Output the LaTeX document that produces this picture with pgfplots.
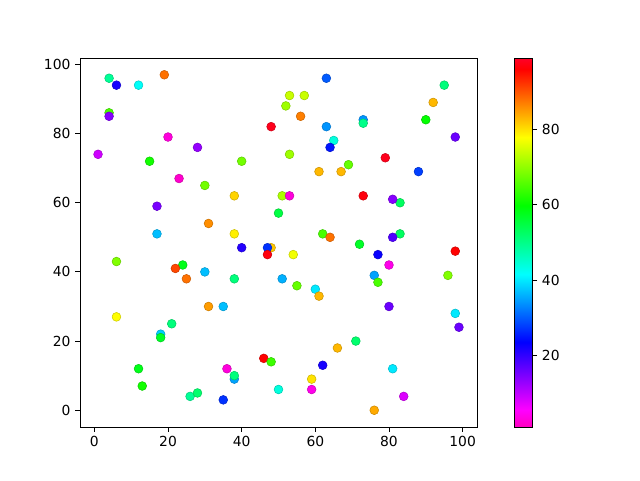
\documentclass[border=0pt]{standalone}
\usepackage{fontspec}
\setmainfont{DejaVu Sans}
\usepackage{pgfplots}
\pgfplotsset{compat=1.18}

% gist_rainbow reversed
\pgfplotsset{
  colormap={gistrainbowr}{
    rgb(0pt)=(1,0,0.75); rgb(46pt)=(1,0,1); rgb(230pt)=(0,0,1);
    rgb(414pt)=(0,1,1); rgb(600pt)=(0,1,0); rgb(785pt)=(1,1,0);
    rgb(970pt)=(1,0,0); rgb(1000pt)=(1,0,0.16)
  },
}

\pgfplotstableread{
x y c
4 96 49
6 94 22
12 94 42
19 97 88
4 86 65
4 85 14
20 79 3
28 76 13
1 74 9
15 72 61
23 67 2
63 96 30
53 91 74
57 91 74
52 88 71
56 85 87
48 82 98
63 82 34
65 78 44
64 76 25
40 72 68
53 74 71
61 69 83
67 69 83
69 71 67
95 94 51
92 89 83
73 84 34
73 83 50
90 84 60
98 79 16
79 73 98
88 69 28
30 65 68
17 59 15
31 54 86
17 51 37
6 43 69
24 42 58
22 41 91
25 38 88
30 40 37
38 62 81
51 62 72
53 62 3
50 57 55
38 51 79
62 51 65
64 50 88
40 47 21
48 47 82
47 47 27
47 45 97
54 45 77
38 38 51
51 38 36
55 36 67
60 35 40
61 33 83
73 62 97
83 60 53
81 61 14
83 51 53
81 50 18
72 48 57
98 46 96
77 45 23
80 42 4
76 39 35
77 37 65
96 39 69
6 27 78
31 30 85
35 30 37
21 25 51
18 22 38
18 21 57
12 12 58
13 7 61
26 4 49
28 5 52
35 3 27
46 15 96
48 14 64
36 12 3
38 9 35
38 10 51
50 6 44
59 9 80
59 6 4
62 13 22
66 18 83
80 30 16
98 28 40
99 24 16
71 20 52
81 12 40
84 4 8
76 0 84
}\points

\begin{document}
\begin{tikzpicture}
\begin{axis}[
  at={(0,0)}, anchor=south west,
  scale only axis,
  width=297.75pt, height=276.75pt,
  xmin=-3.9, xmax=103.9,
  ymin=-4.85, ymax=101.85,
  xtick={0,20,...,100}, ytick={0,20,...,100},
  xtick pos=bottom, ytick pos=left,
  tick align=outside,
  major tick length=3.65pt,
  every tick/.style={black, line width=0.6pt},
  axis line style={line width=0.6pt},
  tick label style={font=\fontsize{10.4}{12}\selectfont},
  /pgf/number format/assume math mode=true,
  colormap name=gistrainbowr,
  point meta min=1, point meta max=99,
  colorbar,
  colorbar style={
    at={(parent axis.north east)}, anchor=north west,
    xshift=19.5pt,
    scale only axis,
    width=13.5pt, height=276.75pt,
    ytick={20,40,60,80},
    ytick pos=right,
    tick align=outside,
    major tick length=3.65pt,
    every tick/.style={black, line width=0.6pt},
    axis line style={line width=0.6pt},
    tick label style={font=\fontsize{10.4}{12}\selectfont},
    /pgf/number format/assume math mode=true,
  },
]
  \addplot[scatter, only marks, mark=*, mark size=3.3pt, scatter src=explicit]
    table[x=x, y=y, meta=c] {\points};
\end{axis}
\pgfresetboundingbox
\path (-60pt,-39.75pt) rectangle (420pt,320.25pt);
\end{tikzpicture}
\end{document}
